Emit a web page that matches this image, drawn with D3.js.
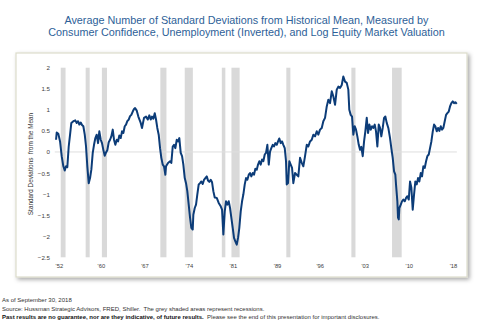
<!DOCTYPE html>
<html>
<head>
<meta charset="utf-8">
<script src="https://cdn.jsdelivr.net/npm/d3@7"></script>
<style>
  html, body { margin: 0; padding: 0; background: #fff; }
  svg { display: block; font-family: "Liberation Sans", Arial, sans-serif; }
</style>
</head>
<body>
<svg id="chart" width="493" height="324"></svg>
<script>
// ---- Data ----
const titleLines = [
  "Average Number of Standard Deviations from Historical Mean, Measured by",
  "Consumer Confidence, Unemployment (Inverted), and Log Equity Market Valuation"
];
const yAxisTitle = "Standard Deviations  from the Mean";
const footnotes = [
  "As of September 30, 2018",
  "Source: Hussman Strategic Advisors, FRED, Shiller.  The grey shaded areas represent recessions."
];
const disclaimerBold = "Past results are no guarantee, nor are they indicative, of future results.";
const disclaimerRest = "  Please see the end of this presentation for important disclosures.";

const years = [
  1952.81,1952.92,1953.19,1953.47,1953.74,1954.01,1954.24,1954.45,1954.66,1954.89,
  1955.11,1955.32,1955.65,1955.97,1956.20,1956.42,1956.63,1956.86,1957.07,1957.29,
  1957.52,1957.73,1957.94,1958.17,1958.39,1958.60,1958.83,1959.04,1959.26,1959.48,
  1959.70,1959.91,1960.14,1960.35,1960.57,1960.80,1961.01,1961.22,1961.45,1961.67,
  1961.88,1962.11,1962.32,1962.54,1962.77,1962.98,1963.19,1963.42,1963.63,1963.85,
  1964.08,1964.29,1964.50,1964.73,1964.95,1965.16,1965.39,1965.60,1965.77,1966.05,
  1966.31,1966.70,1966.91,1967.24,1967.57,1967.85,1968.11,1968.34,1968.55,1968.77,
  1969.00,1969.21,1969.42,1969.65,1969.87,1970.08,1970.31,1970.52,1970.74,1970.85,
  1971.18,1971.51,1971.72,1971.95,1972.16,1972.38,1972.61,1972.82,1973.03,1973.26,
  1973.48,1973.69,1973.92,1974.13,1974.34,1974.57,1974.79,1975.00,1975.23,1975.33,
  1975.56,1975.77,1975.98,1976.21,1976.43,1976.64,1976.87,1977.08,1977.30,1977.53,
  1977.74,1977.95,1978.18,1978.40,1978.61,1978.84,1979.17,1979.49,1979.82,1980.04,
  1980.25,1980.48,1980.69,1980.91,1981.13,1981.35,1981.56,1981.79,1982.00,1982.22,
  1982.45,1982.66,1982.87,1983.10,1983.32,1983.53,1983.76,1983.97,1984.19,1984.42,
  1984.63,1984.84,1985.07,1985.28,1985.50,1985.73,1985.94,1986.15,1986.38,1986.60,
  1986.81,1987.04,1987.25,1987.47,1987.70,1987.91,1988.12,1988.35,1988.56,1988.78,
  1989.01,1989.22,1989.43,1989.66,1989.88,1990.09,1990.32,1990.53,1990.65,1990.86,
  1991.07,1991.30,1991.52,1991.73,1992.01,1992.29,1992.55,1992.83,1993.11,1993.37,
  1993.65,1993.93,1994.19,1994.47,1994.75,1995.01,1995.29,1995.57,1995.83,1996.11,
  1996.39,1996.65,1996.93,1997.21,1997.47,1997.75,1998.03,1998.29,1998.57,1998.85,
  1999.11,1999.39,1999.67,1999.93,2000.21,2000.49,2000.75,2000.91,2001.14,2001.36,
  2001.57,2001.80,2002.01,2002.23,2002.46,2002.67,2002.88,2003.11,2003.33,2003.54,
  2003.77,2003.98,2004.20,2004.43,2004.64,2004.85,2005.08,2005.29,2005.51,2005.74,
  2005.95,2006.16,2006.39,2006.61,2006.82,2007.05,2007.31,2007.59,2007.80,2008.03,
  2008.25,2008.46,2008.57,2008.79,2008.90,2009.02,2009.12,2009.35,2009.56,2009.77,
  2010.00,2010.22,2010.43,2010.66,2010.87,2011.09,2011.31,2011.53,2011.74,2011.97,
  2012.18,2012.40,2012.63,2012.84,2013.05,2013.28,2013.50,2013.71,2013.94,2014.15,
  2014.37,2014.60,2014.81,2015.02,2015.25,2015.47,2015.68,2015.91,2016.12,2016.33,
  2016.56,2016.78,2016.99,2017.22,2017.43,2017.65,2017.88,2018.09,2018.30,2018.53
];
const stdDevs = [
  0.29,0.46,0.43,0.25,-0.10,-0.34,-0.44,-0.34,-0.36,0.13,
  0.41,0.69,0.73,0.75,0.69,0.73,0.65,0.70,0.64,0.61,
  0.41,0.13,-0.34,-0.74,-0.62,-0.42,-0.02,0.17,0.33,0.41,
  0.21,0.49,0.29,0.21,0.05,-0.09,-0.01,0.04,0.23,0.29,
  0.37,0.53,0.29,0.17,0.29,0.25,0.39,0.33,0.49,0.45,
  0.61,0.65,0.73,0.77,0.85,0.88,0.96,1.02,1.04,0.98,
  0.84,0.69,0.57,0.81,0.84,0.77,0.87,0.77,0.84,0.79,
  0.92,0.77,0.57,0.41,0.09,-0.14,-0.30,-0.34,-0.54,-0.34,
  -0.26,-0.22,-0.26,0.13,0.17,0.09,0.29,0.25,0.33,-0.02,
  -0.10,-0.30,-0.62,-0.74,-0.93,-1.25,-1.56,-1.80,-1.84,-1.49,
  -1.33,-1.25,-1.01,-0.77,-0.74,-0.70,-0.76,-0.66,-0.62,-0.58,
  -0.68,-0.71,-0.66,-0.72,-0.93,-1.08,-1.09,-1.21,-1.29,-1.37,
  -1.96,-1.41,-1.17,-1.25,-1.17,-1.33,-1.56,-1.80,-2.04,-2.12,
  -2.20,-2.04,-1.80,-1.41,-1.17,-1.01,-0.77,-0.62,-0.66,-0.54,
  -0.50,-0.58,-0.50,-0.54,-0.40,-0.42,-0.30,-0.22,-0.30,-0.18,
  -0.22,-0.06,-0.02,0.17,-0.30,0.01,0.09,0.17,0.13,0.21,
  0.17,0.25,0.32,0.21,0.25,0.17,0.09,-0.22,-0.77,-0.74,
  -0.22,-0.30,-0.38,-0.74,-0.50,-0.54,-0.58,-0.14,-0.26,-0.34,
  -0.10,0.17,0.13,0.25,0.29,0.41,0.37,0.49,0.41,0.53,
  0.57,0.73,0.81,1.08,1.24,1.16,1.44,1.32,1.12,1.48,
  1.55,1.52,1.59,1.79,1.67,1.64,1.48,1.00,0.88,0.84,
  0.41,0.61,0.53,0.37,0.17,0.05,0.12,-0.10,0.25,0.49,
  0.81,0.45,0.65,0.53,0.61,0.57,0.65,0.49,0.13,0.65,
  0.57,0.37,0.57,0.81,0.84,0.69,0.57,0.33,0.09,-0.14,
  -0.46,-0.54,-0.77,-1.17,-1.56,-1.60,-1.33,-1.25,-1.17,-1.13,
  -1.17,-1.09,-1.05,-1.13,-0.70,-0.85,-1.37,-1.01,-0.70,-0.77,
  -0.62,-0.70,-0.50,-0.58,-0.34,-0.38,-0.22,-0.10,-0.06,0.09,
  0.25,0.49,0.65,0.61,0.49,0.57,0.50,0.61,0.53,0.57,
  0.73,0.88,0.92,0.96,1.08,1.16,1.20,1.16,1.18,1.14
];

const recessionStarts = [1953.58, 1957.67, 1960.33, 1969.92, 1973.92, 1980.00, 1981.58, 1990.58, 2001.25, 2007.92];
const recessionEnds   = [1954.37, 1958.33, 1961.17, 1970.92, 1975.25, 1980.58, 1982.92, 1991.25, 2001.92, 2009.50];

const xTickYears  = [1953.27, 1960.16, 1967.32, 1974.59, 1981.81, 1989.06, 1996.06, 2003.44, 2010.67, 2017.92];
const xTickLabels = ["'52", "'60", "'67", "'74", "'81", "'89", "'96", "'03", "'10", "'18"];
const yTicks = [2, 1.5, 1, 0.5, 0, -0.5, -1, -1.5, -2, -2.5];

// ---- Drawing ----
const svg = d3.select("#chart");
const x = d3.scaleLinear().domain([1950, 2020]).range([38.9, 465.7]);
const y = d3.scaleLinear().domain([-2.5, 2]).range([257.3, 67.7]);

// shadow filter
const defs = svg.append("defs");
const f = defs.append("filter").attr("id", "shadow").attr("x", "-5%").attr("y", "-5%").attr("width", "112%").attr("height", "115%");
f.append("feDropShadow").attr("dx", 2).attr("dy", 2).attr("stdDeviation", 2).attr("flood-color", "#000").attr("flood-opacity", 0.35);

// Title
svg.append("g").selectAll("text").data(titleLines).join("text")
  .attr("x", 246.5).attr("y", (d, i) => 24 + i * 12.3)
  .attr("text-anchor", "middle")
  .attr("font-size", "10.8px")
  .attr("fill", "#2e5f98")
  .text(d => d);

// Panel
svg.append("rect")
  .attr("x", 16).attr("y", 53).attr("width", 451).attr("height", 224)
  .attr("fill", "#fff").attr("stroke", "#dcdccb").attr("stroke-width", 1.2)
  .attr("filter", "url(#shadow)");

// Recession bars
const rec = recessionStarts.map((s, i) => ({ s, e: recessionEnds[i] }));
svg.append("g").selectAll("rect").data(rec).join("rect")
  .attr("x", d => x(d.s)).attr("width", d => x(d.e) - x(d.s))
  .attr("y", y(2)).attr("height", y(-2.5) - y(2))
  .attr("fill", "#d9d9d9");

// Zero line
svg.append("line")
  .attr("x1", x(1952.6)).attr("x2", x(2018.55))
  .attr("y1", y(0)).attr("y2", y(0))
  .attr("stroke", "#dedede").attr("stroke-width", 1);

// Y axis (labels only)
const yAxis = d3.axisLeft(y).tickValues(yTicks).tickSize(0).tickPadding(0)
  .tickFormat(d => d3.format("")(d));
const gy = svg.append("g").attr("transform", "translate(50,0)").call(yAxis);
gy.select(".domain").remove();
gy.selectAll("text").attr("font-size", "6.2px").attr("fill", "#404040")
  .attr("font-family", "'Liberation Sans', Arial, sans-serif");

// X axis (labels only)
const xAxis = d3.axisBottom(x).tickValues(xTickYears).tickSize(0).tickPadding(0)
  .tickFormat((d, i) => xTickLabels[i]);
const gx = svg.append("g").attr("transform", "translate(0,263.5)").call(xAxis);
gx.select(".domain").remove();
gx.selectAll("text").attr("font-size", "5.8px").attr("fill", "#404040")
  .attr("font-family", "'Liberation Sans', Arial, sans-serif");

// Y axis title
svg.append("text")
  .attr("transform", "translate(32.5,164) rotate(-90)")
  .attr("text-anchor", "middle")
  .attr("font-size", "6.4px").attr("fill", "#333")
  .style("white-space", "pre")
  .text(yAxisTitle);

// Line
const pts = years.map((yr, i) => [yr, stdDevs[i]]);
svg.append("path")
  .datum(pts)
  .attr("fill", "none")
  .attr("stroke", "#0c3c78")
  .attr("stroke-width", 2)
  .attr("stroke-linejoin", "round")
  .attr("d", d3.line().x(d => x(d[0])).y(d => y(d[1])));

// Footnotes
svg.append("g").selectAll("text").data(footnotes).join("text")
  .attr("x", 2).attr("y", (d, i) => 302.2 + i * 8.6)
  .attr("font-size", "6px").attr("fill", "#333")
  .style("white-space", "pre")
  .text(d => d);
const disc = svg.append("text").attr("x", 2).attr("y", 319.4)
  .attr("font-size", "6px").attr("fill", "#222").style("white-space", "pre");
disc.append("tspan").attr("font-weight", "bold").attr("fill", "#111").text(disclaimerBold);
disc.append("tspan").attr("fill", "#333").text(disclaimerRest);
</script>
</body>
</html>
